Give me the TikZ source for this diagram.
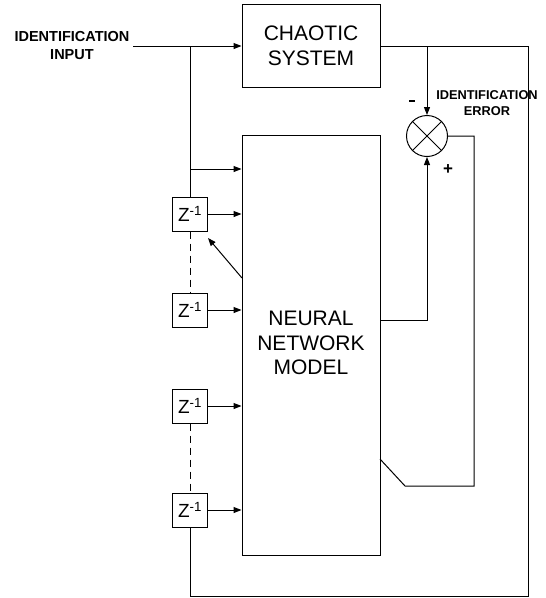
\documentclass[tikz,border=0pt]{standalone}
\usepackage{fontspec}
\setmainfont{Liberation Sans}
\usetikzlibrary{arrows.meta,calc}
\begin{document}
\begin{tikzpicture}[x=1pt,y=-1pt,
  line width=1pt,
  arr/.style={-{Triangle[length=8pt,width=6pt]}},
  blk/.style={draw,rectangle,inner sep=0pt,align=center,font=\fontsize{21}{25}\selectfont},
  zbox/.style={draw,rectangle,inner sep=0pt,minimum width=35pt,minimum height=34pt,font=\fontsize{19}{19}\selectfont},
  lbl/.style={align=center,inner sep=0pt}]
\useasboundingbox (0,0) rectangle (546,598);
\node[blk,minimum width=138pt,minimum height=83pt] (chaos) at (311,46) {CHAOTIC\\SYSTEM};
\node[blk,minimum width=138pt,minimum height=420pt] (nn) at (311,345) {};
\node[lbl,font=\fontsize{21}{24.5}\selectfont] (nntext) at (311,343) {NEURAL\\NETWORK\\MODEL};
\node[draw,circle,minimum size=41pt,inner sep=0pt] (sum) at (427,136) {};
\draw (sum.north east) -- (sum.south west) (sum.north west) -- (sum.south east);
\node[zbox] (z1) at (190,214) {Z\textsuperscript{-1}};
\node[zbox] (z2) at (190,310) {Z\textsuperscript{-1}};
\node[zbox] (z3) at (190,406) {Z\textsuperscript{-1}};
\node[zbox] (z4) at (190,510) {Z\textsuperscript{-1}};
% labels
\node[lbl,font=\fontsize{14.5}{18}\selectfont\bfseries] (inlbl) at (72,46) {IDENTIFICATION\\INPUT};
\node[lbl,font=\fontsize{12.8}{16.5}\selectfont\bfseries] (errlbl) at (487,103) {IDENTIFICATION\\ERROR};
\node[fill,inner sep=0pt,minimum width=6pt,minimum height=2pt] (minus) at (412,101) {};
\node[font=\fontsize{17}{17}\selectfont\bfseries,inner sep=0pt] (plus) at (448,170) {+};
% coordinates
\coordinate (inp) at (133,46);
\coordinate (j1) at (190,46);
\coordinate (j2) at (190,169);
\coordinate (br) at (427,46);
\coordinate (rt) at (528,46);
\coordinate (rb) at (528,596);
\coordinate (nnout) at (380,320);
\coordinate (eb) at (474,486);
\coordinate (ec) at (405,486);
\coordinate (nnerr) at (380,459);
\coordinate (diagA) at (242,278);
\coordinate (diagB) at (208,238);
% connectors
\draw[arr] (inp) -- (chaos.west);
\draw (j1) -- (z1.north);
\draw[arr] (j2) -- (j2 -| nn.west);
\foreach \z in {z1,z2,z3,z4} \draw[arr] (\z.east) -- (\z.east -| nn.west);
\draw[dash pattern=on 7pt off 5pt] (z1.south) -- (z2.north);
\draw[dash pattern=on 7pt off 5pt] (z3.south) -- (z4.north);
\draw[arr] (diagA) -- (diagB);
\draw (z4.south) |- (rb) -- (rt) -- (chaos.east);
\draw[arr] (br) -- (sum.north);
\draw[arr] (nnout) -| (sum.south);
\draw (sum.east) -| (eb) -- (ec) -- (nnerr);
\end{tikzpicture}
\end{document}
